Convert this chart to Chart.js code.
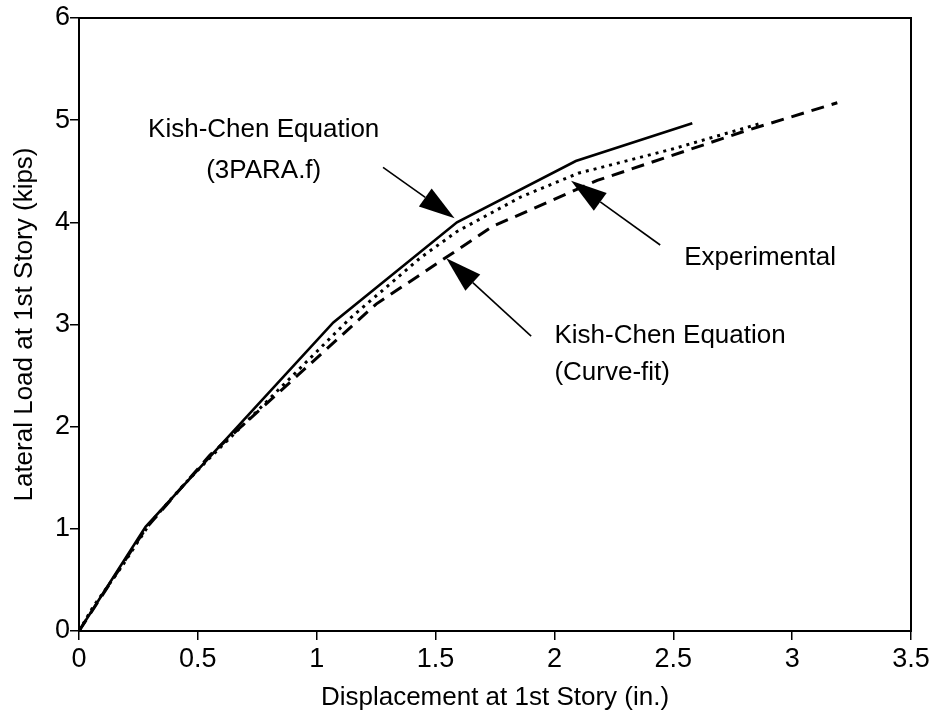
<!DOCTYPE html>
<html>
<head>
<meta charset="utf-8">
<script src="https://cdn.jsdelivr.net/npm/chart.js@4/dist/chart.umd.min.js"></script>
<style>
  html, body { margin: 0; padding: 0; background: #ffffff; }
  #wrap { width: 937px; height: 717px; }
</style>
</head>
<body>
<div id="wrap"><canvas id="chart" width="937" height="717"></canvas></div>
<script>
// Kish-Chen equation, 3-parameter power model (3PARA.f)
const threeParaDisp = [0, 0.28, 1.07, 1.59, 2.09, 2.58];
const threeParaLoad = [0, 1.02, 3.02, 4.00, 4.60, 4.97];

// Kish-Chen equation with curve-fitted parameters
const curveFitDisp = [0, 0.06, 0.18, 0.30, 0.44, 0.54, 0.80, 1.14, 1.44, 1.59, 1.86, 2.10, 2.50, 2.87];
const curveFitLoad = [0, 0.24, 0.63, 1.06, 1.43, 1.67, 2.27, 3.06, 3.66, 3.91, 4.25, 4.48, 4.72, 4.97];

// Experimental load-displacement response
const expDisp = [0, 0.28, 0.55, 1.25, 1.74, 2.18, 2.81, 3.19];
const expLoad = [0, 1.00, 1.72, 3.20, 3.96, 4.41, 4.90, 5.17];

// Axis ticks
const xTickValues = [0, 0.5, 1, 1.5, 2, 2.5, 3, 3.5];
const xTickLabels = ['0', '0.5', '1', '1.5', '2', '2.5', '3', '3.5'];
const yTickValues = [0, 1, 2, 3, 4, 5, 6];
const yTickLabels = ['0', '1', '2', '3', '4', '5', '6'];

const FONT = '"Liberation Sans", Arial, Helvetica, sans-serif';

function toPoints(xs, ys) {
  return xs.map((x, i) => ({ x: x, y: ys[i] }));
}

// Callout labels and arrows, anchored in data units
const calloutText = [
  { lines: ['Kish-Chen Equation', '(3PARA.f)'], x: 0.777, y: [4.838, 4.434], align: 'center' },
  { lines: ['Experimental'], x: 2.546, y: [3.582], align: 'left' },
  { lines: ['Kish-Chen Equation', '(Curve-fit)'], x: 2.0, y: [2.816, 2.457], align: 'left' }
];
const calloutArrows = [
  { from: [1.279, 4.538], to: [1.580, 4.039] },
  { from: [2.445, 3.778], to: [2.070, 4.407] },
  { from: [1.902, 2.887], to: [1.545, 3.648] }
];

const whiteBackground = {
  id: 'whiteBackground',
  beforeDraw(chart) {
    const ctx = chart.ctx;
    ctx.save();
    ctx.fillStyle = '#ffffff';
    ctx.fillRect(0, 0, chart.width, chart.height);
    ctx.restore();
  }
};

const plotFrame = {
  id: 'plotFrame',
  afterDraw(chart) {
    const a = chart.chartArea;
    const ctx = chart.ctx;
    ctx.save();
    ctx.strokeStyle = '#000000';
    ctx.lineWidth = 2;
    ctx.strokeRect(a.left, a.top, a.right - a.left, a.bottom - a.top);
    ctx.restore();
  }
};

const callouts = {
  id: 'callouts',
  afterDatasetsDraw(chart) {
    const ctx = chart.ctx;
    const xs = chart.scales.x, ys = chart.scales.y;
    ctx.save();
    ctx.fillStyle = '#000000';
    ctx.strokeStyle = '#000000';
    ctx.font = '26px ' + FONT;
    ctx.textBaseline = 'alphabetic';
    calloutText.forEach(c => {
      ctx.textAlign = c.align;
      c.lines.forEach((t, i) => {
        ctx.fillText(t, xs.getPixelForValue(c.x), ys.getPixelForValue(c.y[i]));
      });
    });
    const headLen = 36, headHalf = 11;
    calloutArrows.forEach(a => {
      const x0 = xs.getPixelForValue(a.from[0]), y0 = ys.getPixelForValue(a.from[1]);
      const x1 = xs.getPixelForValue(a.to[0]), y1 = ys.getPixelForValue(a.to[1]);
      const ang = Math.atan2(y1 - y0, x1 - x0);
      const bx = x1 - headLen * Math.cos(ang), by = y1 - headLen * Math.sin(ang);
      ctx.lineWidth = 1.6;
      ctx.beginPath();
      ctx.moveTo(x0, y0);
      ctx.lineTo(bx, by);
      ctx.stroke();
      ctx.beginPath();
      ctx.moveTo(x1, y1);
      ctx.lineTo(bx + headHalf * Math.sin(ang), by - headHalf * Math.cos(ang));
      ctx.lineTo(bx - headHalf * Math.sin(ang), by + headHalf * Math.cos(ang));
      ctx.closePath();
      ctx.fill();
    });
    ctx.restore();
  }
};

new Chart(document.getElementById('chart'), {
  type: 'scatter',
  data: {
    datasets: [
      {
        label: 'Kish-Chen Equation (3PARA.f)',
        data: toPoints(threeParaDisp, threeParaLoad),
        showLine: true,
        borderColor: '#000000',
        borderWidth: 2.6,
        pointRadius: 0,
        tension: 0
      },
      {
        label: 'Kish-Chen Equation (Curve-fit)',
        data: toPoints(curveFitDisp, curveFitLoad),
        showLine: true,
        borderColor: '#000000',
        borderWidth: 3,
        borderDash: [3, 5],
        pointRadius: 0,
        tension: 0
      },
      {
        label: 'Experimental',
        data: toPoints(expDisp, expLoad),
        showLine: true,
        borderColor: '#000000',
        borderWidth: 3,
        borderDash: [13, 8],
        pointRadius: 0,
        tension: 0
      }
    ]
  },
  options: {
    responsive: false,
    animation: false,
    devicePixelRatio: 1,
    layout: { padding: { left: 0, top: 18, right: 26, bottom: 0 } },
    plugins: {
      legend: { display: false },
      tooltip: { enabled: false }
    },
    scales: {
      x: {
        type: 'linear',
        min: 0,
        max: 3.5,
        afterFit(scale) { scale.height = 86; },
        afterBuildTicks(scale) { scale.ticks = xTickValues.map(v => ({ value: v })); },
        border: { display: false },
        grid: {
          drawOnChartArea: false,
          drawTicks: true,
          tickLength: 9,
          color: '#000000',
          lineWidth: 1.5
        },
        ticks: {
          color: '#000000',
          font: { family: FONT, size: 27 },
          padding: 3,
          maxRotation: 0,
          callback: (v) => xTickLabels[xTickValues.indexOf(v)]
        },
        title: {
          display: true,
          text: 'Displacement at 1st Story (in.)',
          color: '#000000',
          font: { family: FONT, size: 26 },
          padding: { top: 0, bottom: 4 }
        }
      },
      y: {
        type: 'linear',
        min: 0,
        max: 6,
        afterFit(scale) { scale.width = 79; },
        afterBuildTicks(scale) { scale.ticks = yTickValues.map(v => ({ value: v })); },
        border: { display: false },
        grid: {
          drawOnChartArea: false,
          drawTicks: true,
          tickLength: 9,
          color: '#000000',
          lineWidth: 1.5
        },
        ticks: {
          color: '#000000',
          font: { family: FONT, size: 27 },
          padding: 0,
          callback: (v) => yTickLabels[yTickValues.indexOf(v)]
        },
        title: {
          display: true,
          text: 'Lateral Load at 1st Story (kips)',
          color: '#000000',
          font: { family: FONT, size: 26 },
          padding: { top: 9, bottom: 0 }
        }
      }
    }
  },
  plugins: [whiteBackground, plotFrame, callouts]
});
</script>
</body>
</html>
